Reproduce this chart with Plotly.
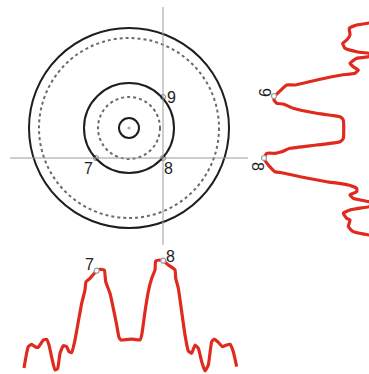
import plotly.graph_objects as go

# ---- geometry of the ring diagram (centred coordinates, y up) ----
solid_radii = [100, 45, 10]
dashed_radii = [90, 31]
v_line_x = 34
h_line_y = -30
pt_labels = ["9", "8", "7"]
pt_x = [34, 34, -33]
pt_y = [31, -30, -30]

# ---- bottom intensity profile (position along x, intensity) ----
bot_pos = [-105, -100.7, -97.3, -94, -90.7, -85.7, -82.3, -80, -76.7, -74, -71.3, -69, -65.7,
           -62.3, -60, -57.3, -54, -50.7, -47.3, -44, -43, -39, -32.3, -29, -24.7, -23.3, -19,
           -15.7, -12.3, -10, -8, -0.7, 5.3, 11, 12.7, 16, 19.3, 22.7, 26, 26.7, 31, 34.3, 39.3,
           46, 46.7, 49.3, 52.7, 56, 59.3, 62.7, 66, 69.3, 72.7, 76, 79.3, 82.7, 85.3, 89.3,
           93.3, 97.7, 101, 104.3, 107.7]
bot_int = [4, 25.3, 27.7, 25.3, 24.7, 32, 32.7, 27, 12, 2, 3.7, 18.7, 26.3,
           25.3, 20.3, 19.3, 32, 50.3, 68.7, 82, 90.3, 93.7, 101.3, 102.7, 102, 90.3, 78.7,
           63.7, 47, 34.7, 32, 32.7, 32.7, 32, 37, 60.3, 80.3, 93.7, 102, 111, 112, 111.3, 107,
           102, 93.7, 83.7, 60.3, 37, 21, 18.7, 27, 23.7, 10.3, 1, 7, 30.3, 33, 29.7,
           25.3, 27, 27.7, 20.3, 5.3]
bot_mark_labels = ["7", "8"]
bot_mark_pos = [-32.3, 34.3]
bot_mark_int = [101.3, 111.3]

# ---- right intensity profile (position along y, intensity) ----
rt_pos = [106, 105, 103, 99.7, 93, 88, 84.7, 79.7, 76.3, 74.7, 73, 71.3, 69.7, 64.7, 61.3, 58,
          54.7, 53, 48, 43, 43, 38.7, 32, 28, 24.7, 24, 19.7, 14.7, 11.3, 8, -10.3, -13.7, -17,
          -20.3, -23.7, -25.3, -25.3, -30.3, -37, -43.7, -44.7, -48.7, -53.7, -57, -60.3,
          -63.7, -67, -70.3, -73.7, -76, -78.7, -82, -85.3, -90.3, -92, -98.7, -103.7, -107, -108]
rt_int = [-5, 2, 14.3, 21.7, 21, 24.3, 28.3, 26, 14.3, 2, -7, 2, 14.3, 21, 17.7, 12.7,
          16, 29.3, 54.3, 76, 84.3, 89.3, 96, 97, 94.3, 87.7, 77.7, 54.3, 31, 27.7, 27.7, 31, 54.3,
          81, 89.3, 96, 104.3, 107, 102.7, 96, 89.3, 71, 44.3, 22.7, 14.3,
          14.3, 21, 17.7, 2, -7, 2, 21, 27.7, 24.3, 21, 22.7, 17.7, 2, -7]
rt_mark_labels = ["9", "8"]
rt_mark_pos = [32, -30]
rt_mark_int = [97, 107]

RED = "#e02a1e"
GREY = "#9a9a9a"
BLACK = "#1e1e1e"
FONT = "Liberation Sans"

fig = go.Figure()

shapes = []
for r in solid_radii:
    shapes.append(dict(type="circle", xref="x", yref="y", x0=-r, x1=r, y0=-r, y1=r,
                       line=dict(color=BLACK, width=2)))
for r in dashed_radii:
    shapes.append(dict(type="circle", xref="x", yref="y", x0=-r, x1=r, y0=-r, y1=r,
                       line=dict(color="#6a6a6a", width=2, dash="3px,3px")))
shapes.append(dict(type="line", xref="x", yref="y", x0=v_line_x, x1=v_line_x, y0=121, y1=-117,
                   line=dict(color=GREY, width=1)))
shapes.append(dict(type="line", xref="x", yref="y", x0=-119, x1=119, y0=h_line_y, y1=h_line_y,
                   line=dict(color=GREY, width=1)))

# centre dot
fig.add_trace(go.Scatter(x=[0], y=[0], mode="markers", xaxis="x", yaxis="y",
                         marker=dict(size=3, color="#aaaaaa"), hoverinfo="skip"))
# intersection points
fig.add_trace(go.Scatter(x=pt_x, y=pt_y, mode="markers", xaxis="x", yaxis="y",
                         marker=dict(size=5, color="white", line=dict(color=GREY, width=1.2)),
                         hoverinfo="skip"))

# bottom profile
fig.add_trace(go.Scatter(x=bot_pos, y=bot_int, mode="lines", xaxis="x", yaxis="y2",
                         line=dict(color=RED, width=3.2, shape="spline", smoothing=0.4),
                         hoverinfo="skip"))
fig.add_trace(go.Scatter(x=bot_mark_pos, y=bot_mark_int, mode="markers", xaxis="x", yaxis="y2",
                         marker=dict(size=5, color="white", line=dict(color=GREY, width=1.2)),
                         hoverinfo="skip"))
# right profile
fig.add_trace(go.Scatter(x=rt_int, y=rt_pos, mode="lines", xaxis="x2", yaxis="y",
                         line=dict(color=RED, width=3.2, shape="spline", smoothing=0.4),
                         hoverinfo="skip"))
fig.add_trace(go.Scatter(x=rt_mark_int, y=rt_mark_pos, mode="markers", xaxis="x2", yaxis="y",
                         marker=dict(size=5, color="white", line=dict(color=GREY, width=1.2)),
                         hoverinfo="skip"))

annotations = []
# diagram labels
lab_dx = [8, 5, -8]
lab_dy = [0, -10, -10]
for t, x, y, dx, dy in zip(pt_labels, pt_x, pt_y, lab_dx, lab_dy):
    annotations.append(dict(text=t, x=x + dx, y=y + dy, xref="x", yref="y", showarrow=False,
                            font=dict(family=FONT, size=16, color=BLACK)))
# bottom profile labels
for t, x, y, dx, dy in zip(bot_mark_labels, bot_mark_pos, bot_mark_int, [-7, 7], [6, 4]):
    annotations.append(dict(text=t, x=x + dx, y=y + dy, xref="x", yref="y2", showarrow=False,
                            font=dict(family=FONT, size=16, color=BLACK)))
# right profile labels (rotated)
for t, y, x, dx, dy in zip(rt_mark_labels, rt_mark_pos, rt_mark_int, [9, 6], [4, -8]):
    annotations.append(dict(text=t, x=x + dx, y=y + dy, xref="x2", yref="y", showarrow=False,
                            textangle=90, font=dict(family=FONT, size=16, color=BLACK)))

fig.update_layout(
    width=369, height=374,
    margin=dict(l=0, r=0, t=0, b=0),
    paper_bgcolor="white", plot_bgcolor="white",
    showlegend=False,
    hovermode=False,
    shapes=shapes,
    annotations=annotations,
    xaxis=dict(range=[-129, 240], visible=False, fixedrange=True),
    yaxis=dict(range=[-246, 128], visible=False, fixedrange=True),
    xaxis2=dict(range=[371, 2], overlaying="x", visible=False, fixedrange=True),
    yaxis2=dict(range=[-2, 372], overlaying="y", visible=False, fixedrange=True),
)

# remove the default page margin so the figure fills the window exactly
fig.write_html(
    "out.html",
    config={"displayModeBar": False, "staticPlot": True},
    post_script="document.body.style.margin='0';document.body.style.overflow='hidden';",
)
